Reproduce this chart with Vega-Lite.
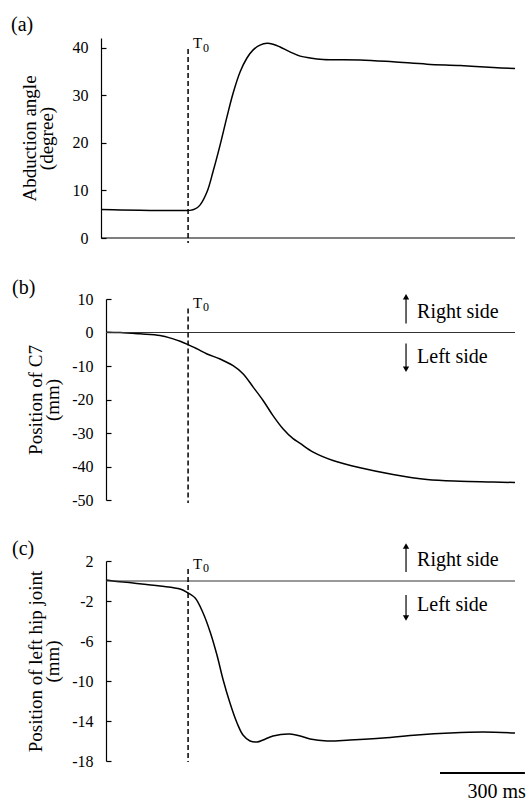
{
  "$schema": "https://vega.github.io/schema/vega-lite/v6.json",
  "padding": {"left": 11, "top": 15, "right": 0, "bottom": 0},
  "background": "white",
  "bounds": "flush",
  "spacing": 61,
  "config": {
    "view": {"stroke": null},
    "font": "Liberation Serif",
    "axis": {"labelOverlap": false, "labelFont": "Liberation Serif", "titleFont": "Liberation Serif", "grid": false, "domainColor": "#000", "domainWidth": 1.2, "tickColor": "#000", "tickSize": -5, "tickWidth": 1.2, "labelFontSize": 16, "labelColor": "#000", "labelPadding": 18, "labelFlush": false, "titleFontSize": 19, "titleFontWeight": "normal", "titleColor": "#000", "titleLineHeight": 17, "labelExpr": "replace(datum.label, '\u2212', '-')"},
    "axisY": {"labelOverlap": false},
    "title": {"font": "Liberation Serif", "fontSize": 20, "fontWeight": "normal", "color": "#000", "anchor": "start", "frame": "group", "baseline": "alphabetic"},
    "text": {"font": "Liberation Serif", "color": "#000"}
  },
  "datasets": {
    "a": [
      {"t": -307, "v": 6.0}, {"t": -240, "v": 5.9}, {"t": -134, "v": 5.8}, {"t": -28, "v": 5.8}, {"t": 7, "v": 5.8},
      {"t": 25, "v": 6.1}, {"t": 42, "v": 6.9}, {"t": 67, "v": 9.7}, {"t": 88, "v": 13.9}, {"t": 113, "v": 19.5},
      {"t": 138, "v": 25.6}, {"t": 159, "v": 30.4}, {"t": 184, "v": 34.9}, {"t": 208, "v": 37.8}, {"t": 230, "v": 39.5},
      {"t": 254, "v": 40.5}, {"t": 279, "v": 40.9}, {"t": 300, "v": 40.7}, {"t": 325, "v": 40.1}, {"t": 360, "v": 39.1},
      {"t": 396, "v": 38.2}, {"t": 431, "v": 37.8}, {"t": 477, "v": 37.5}, {"t": 608, "v": 37.4}, {"t": 724, "v": 37.0},
      {"t": 844, "v": 36.5}, {"t": 961, "v": 36.2}, {"t": 1078, "v": 35.8}, {"t": 1155, "v": 35.6}
    ],
    "b": [
      {"t": -290, "v": 0.1}, {"t": -240, "v": 0.0}, {"t": -170, "v": -0.4}, {"t": -99, "v": -0.9}, {"t": -53, "v": -1.9},
      {"t": -28, "v": -2.6}, {"t": 0, "v": -3.6}, {"t": 32, "v": -4.9}, {"t": 67, "v": -6.4}, {"t": 113, "v": -7.9},
      {"t": 159, "v": -9.9}, {"t": 194, "v": -12.3}, {"t": 230, "v": -16.3}, {"t": 265, "v": -20.3}, {"t": 300, "v": -24.8},
      {"t": 336, "v": -28.8}, {"t": 371, "v": -31.7}, {"t": 396, "v": -33.1}, {"t": 442, "v": -35.7}, {"t": 512, "v": -38.2},
      {"t": 608, "v": -40.4}, {"t": 724, "v": -42.4}, {"t": 844, "v": -43.9}, {"t": 961, "v": -44.4}, {"t": 1078, "v": -44.6},
      {"t": 1155, "v": -44.8}
    ],
    "c": [
      {"t": -290, "v": 0.1}, {"t": -265, "v": 0.0}, {"t": -194, "v": -0.2}, {"t": -99, "v": -0.5}, {"t": -28, "v": -0.8},
      {"t": 0, "v": -1.2}, {"t": 25, "v": -1.7}, {"t": 53, "v": -3.2}, {"t": 78, "v": -5.1}, {"t": 102, "v": -7.4},
      {"t": 124, "v": -9.9}, {"t": 148, "v": -12.2}, {"t": 173, "v": -14.2}, {"t": 194, "v": -15.4}, {"t": 219, "v": -16.0},
      {"t": 244, "v": -16.1}, {"t": 265, "v": -15.9}, {"t": 300, "v": -15.5}, {"t": 360, "v": -15.3}, {"t": 396, "v": -15.5},
      {"t": 431, "v": -15.8}, {"t": 491, "v": -16.0}, {"t": 572, "v": -15.9}, {"t": 689, "v": -15.7}, {"t": 809, "v": -15.4},
      {"t": 926, "v": -15.2}, {"t": 1042, "v": -15.1}, {"t": 1155, "v": -15.2}
    ]
  },
  "vconcat": [
    {
      "width": 409, "height": 200,
      "title": {"text": "(a)", "dx": -95, "offset": 1},
      "encoding": {
        "x": {"field": "t", "type": "quantitative", "scale": {"domain": [-290, 1155], "nice": false, "zero": false}, "axis": null},
        "y": {"field": "v", "type": "quantitative", "scale": {"domain": [0, 42], "nice": false, "zero": false},
              "axis": {"title": ["Abduction angle", "(degree)"], "values": [0, 10, 20, 30, 40], "offset": 5, "titlePadding": 16, "labelOverlap": false}}
      },
      "layer": [
        {"data": {"name": "a"}, "mark": {"type": "line", "color": "#000", "strokeWidth": 1.5, "interpolate": "catmull-rom"}},
        {"data": {"values": [{"t": -307, "t2": 1155, "v": 0}]}, "mark": {"type": "rule", "color": "#000", "strokeWidth": 1.2}, "encoding": {"x2": {"field": "t2"}}},
        {"data": {"values": [{"t": 0, "v": 39.7, "v2": -1.05}]}, "mark": {"type": "rule", "color": "#000", "strokeWidth": 1.5, "strokeDash": [5, 3]}, "encoding": {"y2": {"field": "v2"}}},
        {"data": {"values": [{"t": 0, "v": 39.9, "label": "T"}]}, "mark": {"type": "text", "align": "left", "baseline": "alphabetic", "fontSize": 15, "dx": 5}, "encoding": {"text": {"field": "label"}}},
        {"data": {"values": [{"t": 0, "v": 39.1, "label": "0"}]}, "mark": {"type": "text", "align": "left", "baseline": "alphabetic", "fontSize": 12, "dx": 15}, "encoding": {"text": {"field": "label"}}}
      ]
    },
    {
      "width": 409, "height": 201,
      "title": {"text": "(b)", "dx": -94, "offset": -7},
      "encoding": {
        "x": {"field": "t", "type": "quantitative", "scale": {"domain": [-290, 1155], "nice": false, "zero": false}, "axis": null},
        "y": {"field": "v", "type": "quantitative", "scale": {"domain": [-50, 10], "nice": false, "zero": false},
              "axis": {"title": ["Position of C7", "(mm)"], "values": [-50, -40, -30, -20, -10, 0, 10], "titlePadding": 9, "labelOverlap": false}}
      },
      "layer": [
        {"data": {"name": "b"}, "mark": {"type": "line", "color": "#000", "strokeWidth": 1.5, "interpolate": "catmull-rom"}},
        {"data": {"values": [{"t": -290, "t2": 1155, "v": 0}]}, "mark": {"type": "rule", "color": "#333", "strokeWidth": 1}, "encoding": {"x2": {"field": "t2"}}},
        {"data": {"values": [{"t": 0, "v": 7.2, "v2": -50.9}]}, "mark": {"type": "rule", "color": "#000", "strokeWidth": 1.5, "strokeDash": [5, 3]}, "encoding": {"y2": {"field": "v2"}}},
        {"data": {"values": [{"t": 0, "v": 7.2, "label": "T"}]}, "mark": {"type": "text", "align": "left", "baseline": "alphabetic", "fontSize": 15, "dx": 5}, "encoding": {"text": {"field": "label"}}},
        {"data": {"values": [{"t": 0, "v": 6.4, "label": "0"}]}, "mark": {"type": "text", "align": "left", "baseline": "alphabetic", "fontSize": 12, "dx": 15}, "encoding": {"text": {"field": "label"}}},
        {"data": {"values": [{"t": 770, "v": 2.7, "v2": 10.7}, {"t": 770, "v": -3.3, "v2": -11.0}]}, "mark": {"type": "rule", "color": "#000", "strokeWidth": 1.2}, "encoding": {"y2": {"field": "v2"}}},
        {"data": {"values": [{"t": 770, "v": 10.7}]}, "mark": {"type": "point", "shape": "triangle-up", "filled": true, "color": "#000", "size": 40, "opacity": 1}},
        {"data": {"values": [{"t": 770, "v": -11.0}]}, "mark": {"type": "point", "shape": "triangle-down", "filled": true, "color": "#000", "size": 40, "opacity": 1}},
        {"data": {"values": [{"t": 809, "v": 4.2, "label": "Right side"}, {"t": 809, "v": -9.0, "label": "Left side"}]}, "mark": {"type": "text", "align": "left", "baseline": "alphabetic", "fontSize": 20}, "encoding": {"text": {"field": "label"}}}
      ]
    },
    {
      "width": 409, "height": 200,
      "title": {"text": "(c)", "dx": -94, "offset": -16},
      "encoding": {
        "x": {"field": "t", "type": "quantitative", "scale": {"domain": [-290, 1155], "nice": false, "zero": false}, "axis": null},
        "y": {"field": "v", "type": "quantitative", "scale": {"domain": [-18, 2], "nice": false, "zero": false},
              "axis": {"title": ["Position of left hip joint", "(mm)"], "values": [-18, -14, -10, -6, -2, 2], "titlePadding": 9, "labelOverlap": false}}
      },
      "layer": [
        {"data": {"name": "c"}, "mark": {"type": "line", "color": "#000", "strokeWidth": 1.5, "interpolate": "catmull-rom"}},
        {"data": {"values": [{"t": -290, "t2": 1155, "v": 0}]}, "mark": {"type": "rule", "color": "#333", "strokeWidth": 1}, "encoding": {"x2": {"field": "t2"}}},
        {"data": {"values": [{"t": 0, "v": 1.2, "v2": -18.1}]}, "mark": {"type": "rule", "color": "#000", "strokeWidth": 1.5, "strokeDash": [5, 3]}, "encoding": {"y2": {"field": "v2"}}},
        {"data": {"values": [{"t": 0, "v": 1.2, "label": "T"}]}, "mark": {"type": "text", "align": "left", "baseline": "alphabetic", "fontSize": 15, "dx": 5}, "encoding": {"text": {"field": "label"}}},
        {"data": {"values": [{"t": 0, "v": 0.93, "label": "0"}]}, "mark": {"type": "text", "align": "left", "baseline": "alphabetic", "fontSize": 12, "dx": 15}, "encoding": {"text": {"field": "label"}}},
        {"data": {"values": [{"t": 770, "v": 0.9, "v2": 3.5}, {"t": 770, "v": -1.4, "v2": -3.7}]}, "mark": {"type": "rule", "color": "#000", "strokeWidth": 1.2}, "encoding": {"y2": {"field": "v2"}}},
        {"data": {"values": [{"t": 770, "v": 3.5}]}, "mark": {"type": "point", "shape": "triangle-up", "filled": true, "color": "#000", "size": 40, "opacity": 1}},
        {"data": {"values": [{"t": 770, "v": -3.7}]}, "mark": {"type": "point", "shape": "triangle-down", "filled": true, "color": "#000", "size": 40, "opacity": 1}},
        {"data": {"values": [{"t": 809, "v": 1.5, "label": "Right side"}, {"t": 809, "v": -3.0, "label": "Left side"}]}, "mark": {"type": "text", "align": "left", "baseline": "alphabetic", "fontSize": 20}, "encoding": {"text": {"field": "label"}}},
        {"data": {"values": [{"t": 890, "t2": 1190, "v": -19.2}]}, "mark": {"type": "rule", "color": "#000", "strokeWidth": 2}, "encoding": {"x2": {"field": "t2"}}},
        {"data": {"values": [{"t": 1090, "v": -21.7, "label": "300 ms"}]}, "mark": {"type": "text", "align": "center", "baseline": "alphabetic", "fontSize": 20}, "encoding": {"text": {"field": "label"}}}
      ]
    }
  ]
}
